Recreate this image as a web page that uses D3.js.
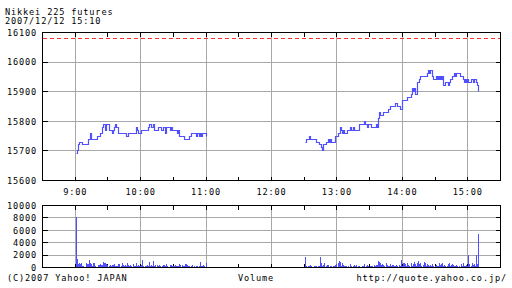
<!DOCTYPE html>
<html>
<head>
<meta charset="utf-8">
<script src="https://cdn.jsdelivr.net/npm/d3@7"></script>
<style>
  body { margin: 0; background: #fff; }
  text { font-family: "DejaVu Sans Mono", monospace; font-size: 8.6px; letter-spacing: 0.85px; fill: #000; }
</style>
</head>
<body>
<div id="chart"></div>
<script>
// price changes (step line), morning and afternoon sessions
var amTimes = ["9:01","9:02","9:03","9:04","9:07","9:12","9:14","9:15","9:20","9:23",
  "9:25","9:26","9:28","9:29","9:31","9:34","9:35","9:36","9:37","9:38",
  "9:40","9:47","9:49","9:56","9:57","9:58","10:01","10:07","10:08","10:10",
  "10:12","10:13","10:16","10:19","10:21","10:23","10:24","10:27","10:28","10:29",
  "10:34","10:35","10:36","10:40","10:45","10:47","10:51","10:52","10:54","10:55",
  "10:56","10:57","11:00"];
var amPrices = [15690,15700,15720,15730,15720,15740,15760,15740,15750,15760,
  15780,15790,15770,15790,15770,15760,15770,15780,15790,15780,
  15760,15750,15760,15780,15770,15760,15770,15780,15790,15780,
  15790,15770,15780,15770,15780,15760,15780,15770,15780,15770,
  15760,15770,15750,15740,15750,15760,15750,15760,15750,15760,
  15750,15760,15750];

var pmTimes = ["12:31","12:32","12:35","12:36","12:41","12:44","12:46","12:47","12:48","12:50",
  "12:52","12:53","12:54","12:55","12:59","13:01","13:03","13:04","13:05","13:06",
  "13:07","13:10","13:12","13:13","13:15","13:16","13:21","13:25","13:26","13:28",
  "13:29","13:32","13:36","13:37","13:38","13:39","13:40","13:43","13:47","13:49",
  "13:54","13:56","13:58","14:00","14:05","14:08","14:09","14:10","14:11","14:12",
  "14:14","14:16","14:17","14:23","14:24","14:25","14:26","14:28","14:29","14:31",
  "14:32","14:33","14:34","14:35","14:36","14:37","14:38","14:40","14:42","14:43",
  "14:44","14:46","14:48","14:49","14:50","14:53","14:56","14:57","14:58","14:59",
  "15:00","15:01","15:03","15:05","15:06","15:08","15:09","15:10"];
var pmPrices = [15730,15740,15750,15740,15730,15720,15710,15700,15720,15730,
  15740,15730,15740,15730,15750,15760,15780,15770,15760,15770,
  15760,15770,15780,15770,15780,15770,15790,15800,15790,15780,
  15790,15780,15790,15780,15810,15830,15820,15830,15840,15850,
  15860,15850,15840,15870,15880,15890,15910,15900,15910,15890,
  15930,15940,15950,15960,15970,15960,15970,15950,15940,15950,
  15940,15950,15940,15950,15940,15950,15920,15930,15920,15930,
  15940,15950,15960,15950,15960,15950,15940,15930,15940,15930,
  15940,15930,15940,15930,15940,15930,15920,15900];

var prevClose = 16080;

// per-minute volume, from 9:01 and from 12:31
var amVolStart = "9:01";
var amVolume = [8200,1400,600,650,600,650,300,200,150,750,
  500,600,1250,650,500,300,700,750,200,150,
  450,400,500,450,450,950,800,750,600,400,
  250,450,300,350,450,550,250,200,300,550,
  600,200,750,350,250,450,200,750,400,300,
  350,250,550,200,300,650,250,450,300,200,
  350,1250,250,300,200,400,200,950,250,450,
  200,1050,300,400,450,200,350,250,150,300,
  450,400,250,500,200,150,350,400,300,200,
  250,350,200,300,250,550,350,450,200,300,
  550,500,450,300,200,150,300,350,250,150,
  300,200,150,250,850,300,200,450,250,650];
var pmVolStart = "12:31";
var pmVolume = [1650,200,150,300,200,450,200,150,250,300,
  200,150,250,300,1650,800,300,450,650,200,
  350,450,150,200,250,150,200,300,450,550,
  750,1050,950,300,650,400,250,200,300,150,
  250,550,200,150,300,350,200,450,150,300,
  200,150,250,200,550,150,300,350,200,150,
  250,200,300,350,200,350,450,1050,850,650,
  450,550,450,300,700,350,250,300,550,200,
  450,400,250,300,350,200,400,250,1250,300,
  650,650,600,250,650,400,300,750,250,500,
  950,550,300,750,1050,500,750,300,450,950,
  650,300,600,350,300,450,250,550,200,300,
  450,300,200,650,400,550,750,300,450,300,
  250,500,650,250,350,550,450,300,200,350,
  300,200,150,500,300,750,250,300,450,200,
  1950,550,300,650,350,550,300,2000,500,5400];

var priceTicks = [15600,15700,15800,15900,16000,16100];
var volTicks = [0,2000,4000,6000,8000,10000];

var parseT = d3.timeParse("%H:%M");
var blue = "#5050ff", grid = "#a8a8a8";

var svg = d3.select("#chart").append("svg")
    .attr("width", 512).attr("height", 288);

// titles
svg.append("text").attr("x", 5).attr("y", 15).text("Nikkei 225 futures");
svg.append("text").attr("x", 5).attr("y", 23.5).text("2007/12/12 15:10");

var x = d3.scaleTime().domain([parseT("8:30"), parseT("15:30")]).range([42.5, 500.5]);
var y = d3.scaleLinear().domain([15600, 16100]).range([180.5, 32.5]);
var yv = d3.scaleLinear().domain([0, 10000]).range([267.5, 205.5]);

var hours = d3.timeHour.range(parseT("9:00"), parseT("15:01"));
var halfHours = d3.timeMinute.every(30).range(parseT("8:30"), parseT("15:31"));

function px(v) { return Math.round(v - 0.5) + 0.5 }

function panel(yScale, ticks, top, bottom) {
  var g = svg.append("g").attr("shape-rendering", "crispEdges");
  // grid
  g.selectAll(".hg").data(ticks.slice(1, -1)).enter().append("line")
    .attr("x1", x.range()[0]).attr("x2", x.range()[1])
    .attr("y1", function(d) { return px(yScale(d)) })
    .attr("y2", function(d) { return px(yScale(d)) })
    .attr("stroke", grid);
  g.selectAll(".vg").data(hours).enter().append("line")
    .attr("x1", function(d) { return px(x(d)) })
    .attr("x2", function(d) { return px(x(d)) })
    .attr("y1", top).attr("y2", bottom)
    .attr("stroke", grid);
  // small ticks inside the frame
  var tk = svg.append("g").attr("stroke", "#000").attr("shape-rendering", "crispEdges");
  tk.selectAll(".tt").data(halfHours).enter().append("line")
    .attr("x1", function(d) { return px(x(d)) })
    .attr("x2", function(d) { return px(x(d)) })
    .attr("y1", top).attr("y2", top + 4);
  tk.selectAll(".tb").data(halfHours).enter().append("line")
    .attr("x1", function(d) { return px(x(d)) })
    .attr("x2", function(d) { return px(x(d)) })
    .attr("y1", bottom - 4).attr("y2", bottom);
  tk.selectAll(".tl").data(ticks).enter().append("line")
    .attr("x1", x.range()[0]).attr("x2", x.range()[0] + 5)
    .attr("y1", function(d) { return px(yScale(d)) })
    .attr("y2", function(d) { return px(yScale(d)) });
  tk.selectAll(".tr").data(ticks).enter().append("line")
    .attr("x1", x.range()[1] - 5).attr("x2", x.range()[1])
    .attr("y1", function(d) { return px(yScale(d)) })
    .attr("y2", function(d) { return px(yScale(d)) });
  // labels
  svg.append("g").selectAll("text").data(ticks).enter().append("text")
    .attr("x", 37).attr("y", function(d) { return yScale(d) })
    .attr("dy", "0.38em").attr("text-anchor", "end")
    .text(function(d) { return d });
  return g;
}

panel(y, priceTicks, 32.5, 180.5);
panel(yv, volTicks, 205.5, 267.5);

// previous close
svg.append("line")
  .attr("x1", 43).attr("x2", 500)
  .attr("y1", px(y(prevClose))).attr("y2", px(y(prevClose)))
  .attr("stroke", "#ff3030").attr("stroke-dasharray", "4,3");

// price lines
var line = d3.line()
  .x(function(d) { return px(x(d.t)) })
  .y(function(d) { return px(y(d.p)) })
  .curve(d3.curveStepAfter);

function series(times, prices) {
  return times.map(function(t, i) { return {t: parseT(t), p: prices[i]} });
}
var sessions = [series(amTimes, amPrices), series(pmTimes, pmPrices)];
sessions.forEach(function(s) {
  svg.append("path").datum(s)
    .attr("d", line).attr("fill", "none")
    .attr("stroke", blue).attr("stroke-width", 1.2);
});

// volume bars
function volData(start, vals) {
  var t0 = parseT(start);
  return vals.map(function(v, i) { return {t: d3.timeMinute.offset(t0, i), v: v} });
}
var vol = volData(amVolStart, amVolume).concat(volData(pmVolStart, pmVolume));
svg.append("g").attr("shape-rendering", "crispEdges")
  .selectAll("rect").data(vol).enter().append("rect")
  .attr("x", function(d) { return Math.round(x(d.t) - 0.5) })
  .attr("width", 1)
  .attr("y", function(d) { return Math.round(yv(d.v)) })
  .attr("height", function(d) { return Math.round(yv(0)) - Math.round(yv(d.v)) })
  .attr("fill", blue);

// frames
var frames = [[32.5, 180.5], [205.5, 267.5]];
frames.forEach(function(r) {
  svg.append("rect")
    .attr("x", 42.5).attr("y", r[0])
    .attr("width", 458).attr("height", r[1] - r[0])
    .attr("fill", "none").attr("stroke", "#000")
    .attr("shape-rendering", "crispEdges");
});

// hour labels between the panels
svg.append("g").selectAll("text").data(hours).enter().append("text")
  .attr("x", function(d) { return x(d) })
  .attr("y", 194.5).attr("text-anchor", "middle")
  .text(d3.timeFormat("%-H:%M"));

// footer
svg.append("text").attr("x", 7).attr("y", 281).text("(C)2007 Yahoo! JAPAN");
svg.append("text").attr("x", 256).attr("y", 281).attr("text-anchor", "middle").text("Volume");
svg.append("text").attr("x", 507).attr("y", 281).attr("text-anchor", "end").text("http://quote.yahoo.co.jp/");
</script>
</body>
</html>
